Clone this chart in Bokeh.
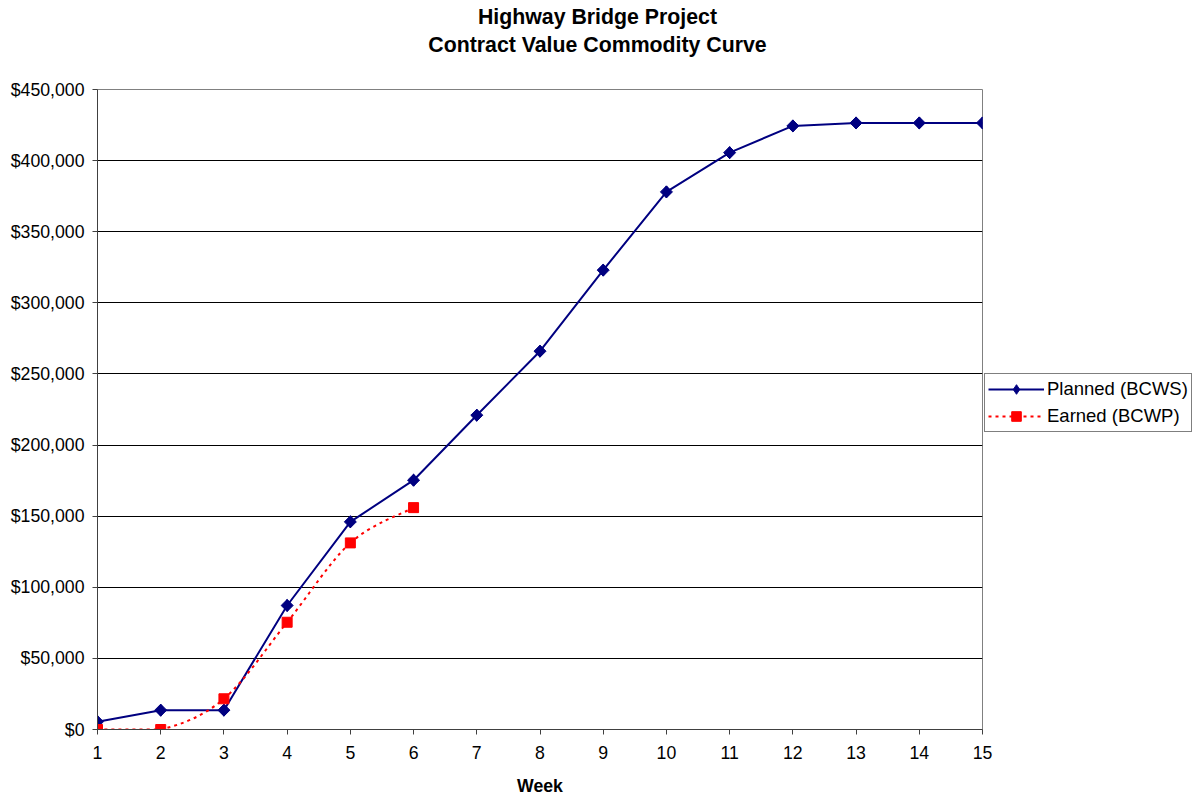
import math
from bokeh.plotting import figure
from bokeh.layouts import column
from bokeh.models import (Range1d, FixedTicker, NumeralTickFormatter, Legend, LegendItem,
                          Div, ColumnDataSource)
from bokeh.embed import file_html
from bokeh.resources import INLINE

# ---- data ----
weeks = [1, 2, 3, 4, 5, 6, 7, 8, 9, 10, 11, 12, 13, 14, 15]
planned = [5500, 13600, 13600, 87200, 146000, 175300, 221000, 266000, 323000,
           378000, 405600, 424400, 426500, 426500, 426500]
earned_weeks = [1, 2, 3, 4, 5, 6]
earned = [0, 0, 21600, 75400, 131200, 156000]
y_ticks = [0, 50000, 100000, 150000, 200000, 250000, 300000, 350000, 400000, 450000]
title_lines = ["Highway Bridge Project", "Contract Value Commodity Curve"]

FONT = "Liberation Sans"
TICK_FS = "17.7px"
TITLE_FS = "21.3px"

title_div = Div(
    text=('<div style="display:block;width:1195px;padding-top:3px;text-align:center;'
          'font-family:\'Liberation Sans\';font-weight:bold;font-size:%s;line-height:28px;'
          'color:black;">%s<br>%s</div>'
          % (TITLE_FS, title_lines[0], title_lines[1])),
    width=1195, height=62, margin=0, styles={"width": "1195px", "text-align": "center"})

p = figure(frame_width=885, frame_height=640, output_backend="svg", toolbar_location=None,
           x_range=Range1d(1, 15), y_range=Range1d(0, 450000),
           min_border_left=97, min_border_right=213, min_border_top=27, min_border_bottom=64)
p.title.visible = False
p.margin = 0

p.background_fill_color = "white"
p.border_fill_color = "white"
p.outline_line_color = "#808080"
p.outline_line_width = 1

p.xgrid.grid_line_color = None
p.ygrid.grid_line_color = "black"
p.ygrid.grid_line_width = 1
p.ygrid.ticker = FixedTicker(ticks=y_ticks)

p.yaxis.ticker = FixedTicker(ticks=y_ticks)
p.yaxis.formatter = NumeralTickFormatter(format="$0,0")
p.xaxis.ticker = FixedTicker(ticks=weeks)
for ax in (p.xaxis[0], p.yaxis[0]):
    ax.axis_line_color = "#404040"
    ax.major_tick_line_color = "#404040"
    ax.major_tick_out = 5
    ax.major_tick_in = 0
    ax.minor_tick_line_color = None
    ax.major_label_text_font = FONT
    ax.major_label_text_font_size = TICK_FS
    ax.major_label_text_color = "black"
p.yaxis.major_label_standoff = 8
p.xaxis.major_label_standoff = 11
p.xaxis.axis_label = "Week"
p.xaxis.axis_label_text_font = FONT
p.xaxis.axis_label_text_font_size = TICK_FS
p.xaxis.axis_label_text_font_style = "bold"
p.xaxis.axis_label_text_color = "black"
p.xaxis.axis_label_standoff = 14

# Planned: straight segments with diamonds
lp = p.line(weeks, planned, line_color="#000080", line_width=2)
sd = p.scatter(weeks, planned, marker="diamond", size=12,
               fill_color="#000080", line_color="#000080")
sp = p.scatter(weeks, planned, marker="square", angle=math.pi / 4, size=8.5,
               fill_color="#000080", line_color="#000080")

# Earned: smoothed dotted curve (Catmull-Rom style bezier through data points)
n = len(earned_weeks)
x0s, y0s, x1s, y1s, cx0s, cy0s, cx1s, cy1s = [], [], [], [], [], [], [], []
for i in range(n - 1):
    xa, ya = earned_weeks[i], earned[i]
    xb, yb = earned_weeks[i + 1], earned[i + 1]
    xp, yp = (earned_weeks[i - 1], earned[i - 1]) if i > 0 else (xa, ya)
    xn, yn = (earned_weeks[i + 2], earned[i + 2]) if i + 2 < n else (xb, yb)
    c0x, c0y = xa + (xb - xp) / 6.0, ya + (yb - yp) / 6.0
    c1x, c1y = xb - (xn - xa) / 6.0, yb - (yn - ya) / 6.0
    lo, hi = min(ya, yb), max(ya, yb)
    c0y = min(max(c0y, lo), hi)
    c1y = min(max(c1y, lo), hi)
    x0s.append(xa); y0s.append(ya); x1s.append(xb); y1s.append(yb)
    cx0s.append(c0x); cy0s.append(c0y); cx1s.append(c1x); cy1s.append(c1y)
src = ColumnDataSource(dict(x0=x0s, y0=y0s, x1=x1s, y1=y1s,
                            cx0=cx0s, cy0=cy0s, cx1=cx1s, cy1=cy1s))
le = p.bezier(x0="x0", y0="y0", x1="x1", y1="y1", cx0="cx0", cy0="cy0",
              cx1="cx1", cy1="cy1", source=src, line_color="#FF0000",
              line_width=2, line_dash="3 4")
se = p.scatter(earned_weeks, earned, marker="square", size=10, fill_color="#FF0000",
               line_color="#FF0000")

legend = Legend(items=[LegendItem(label="Planned (BCWS)", renderers=[lp, sd]),
                       LegendItem(label="Earned (BCWP)", renderers=[le, se])],
                location=(2, 297), orientation="vertical")
legend.border_line_color = "black"
legend.border_line_width = 1
legend.background_fill_color = "white"
legend.background_fill_alpha = 1
legend.label_text_font = FONT
legend.label_text_font_size = "18.5px"
legend.label_text_color = "black"
legend.glyph_width = 56
legend.glyph_height = 24
legend.label_standoff = 3
legend.label_height = 22
legend.spacing = 3
legend.padding = 3
legend.margin = 0
p.add_layout(legend, "right")

layout = column(title_div, p, spacing=0)
open("out.html", "w").write(file_html(layout, INLINE))
